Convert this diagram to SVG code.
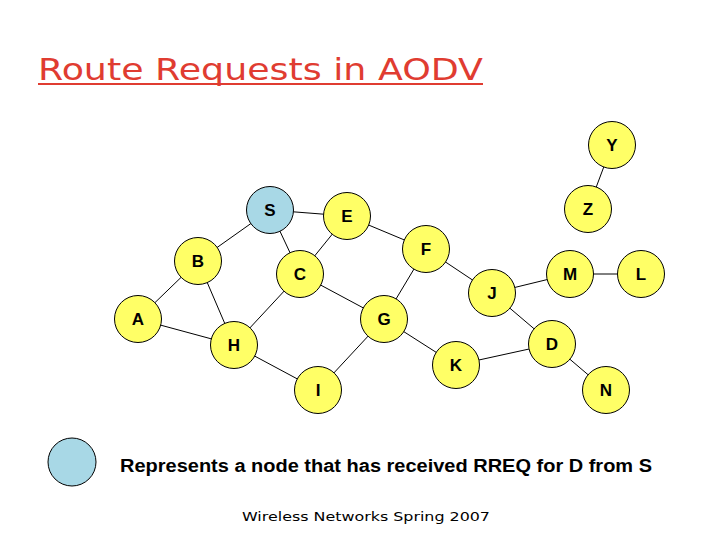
<svg xmlns="http://www.w3.org/2000/svg" width="720" height="540" viewBox="0 0 720 540">
<style>
.n{fill:#ffff66;stroke:#000;stroke-width:1}
.s{fill:#a8d8e6;stroke:#000;stroke-width:1}
.l{font-family:"Liberation Sans",Arial,sans-serif;font-weight:bold;font-size:17px;text-anchor:middle}
#edges line{stroke:#000;stroke-width:1}
</style>
<rect width="720" height="540" fill="#fff"/>
<text x="38" y="80" font-family="DejaVu Sans,sans-serif" font-size="31" fill="#e03c31" textLength="445" lengthAdjust="spacingAndGlyphs">Route Requests in AODV</text>
<line x1="38" y1="84" x2="483" y2="84" stroke="#e03c31" stroke-width="2"/>
<g id="edges">
<line x1="612" y1="145" x2="588" y2="209"/>
<line x1="270" y1="210" x2="347" y2="216"/>
<line x1="270" y1="210" x2="198" y2="261"/>
<line x1="270" y1="210" x2="300" y2="274"/>
<line x1="347" y1="216" x2="300" y2="274"/>
<line x1="347" y1="216" x2="426" y2="249"/>
<line x1="198" y1="261" x2="138" y2="319"/>
<line x1="198" y1="261" x2="234" y2="345"/>
<line x1="138" y1="319" x2="234" y2="345"/>
<line x1="300" y1="274" x2="234" y2="345"/>
<line x1="300" y1="274" x2="384" y2="319"/>
<line x1="426" y1="249" x2="384" y2="319"/>
<line x1="426" y1="249" x2="492" y2="293"/>
<line x1="492" y1="293" x2="570" y2="274"/>
<line x1="570" y1="274" x2="641" y2="274"/>
<line x1="492" y1="293" x2="552" y2="344"/>
<line x1="384" y1="319" x2="456" y2="365"/>
<line x1="384" y1="319" x2="318" y2="390"/>
<line x1="234" y1="345" x2="318" y2="390"/>
<line x1="456" y1="365" x2="552" y2="344"/>
<line x1="552" y1="344" x2="606" y2="390"/>
</g>
<g id="Y"><circle class="n" cx="612" cy="145" r="23.5"/><text class="l" x="612" y="151">Y</text></g>
<g id="Z"><circle class="n" cx="588" cy="209" r="23.5"/><text class="l" x="588" y="215">Z</text></g>
<g id="S"><circle class="s" cx="270" cy="210" r="23.5"/><text class="l" x="270" y="216">S</text></g>
<g id="E"><circle class="n" cx="347" cy="216" r="23.5"/><text class="l" x="347" y="222">E</text></g>
<g id="F"><circle class="n" cx="426" cy="249" r="23.5"/><text class="l" x="426" y="255">F</text></g>
<g id="B"><circle class="n" cx="198" cy="261" r="23.5"/><text class="l" x="198" y="267">B</text></g>
<g id="C"><circle class="n" cx="300" cy="274" r="23.5"/><text class="l" x="300" y="280">C</text></g>
<g id="J"><circle class="n" cx="492" cy="293" r="23.5"/><text class="l" x="492" y="299">J</text></g>
<g id="M"><circle class="n" cx="570" cy="274" r="23.5"/><text class="l" x="570" y="280">M</text></g>
<g id="L"><circle class="n" cx="641" cy="274" r="23.5"/><text class="l" x="641" y="280">L</text></g>
<g id="A"><circle class="n" cx="138" cy="319" r="23.5"/><text class="l" x="138" y="325">A</text></g>
<g id="G"><circle class="n" cx="384" cy="319" r="23.5"/><text class="l" x="384" y="325">G</text></g>
<g id="H"><circle class="n" cx="234" cy="345" r="23.5"/><text class="l" x="234" y="351">H</text></g>
<g id="D"><circle class="n" cx="552" cy="344" r="23.5"/><text class="l" x="552" y="350">D</text></g>
<g id="K"><circle class="n" cx="456" cy="365" r="23.5"/><text class="l" x="456" y="371">K</text></g>
<g id="I"><circle class="n" cx="318" cy="390" r="23.5"/><text class="l" x="318" y="396">I</text></g>
<g id="N"><circle class="n" cx="606" cy="390" r="23.5"/><text class="l" x="606" y="396">N</text></g>
<g id="legend"><circle class="s" cx="72" cy="462" r="24"/>
<text x="120" y="472" font-family="Liberation Sans,Arial,sans-serif" font-size="17.5" font-weight="bold" textLength="532" lengthAdjust="spacingAndGlyphs">Represents a node that has received RREQ for D from S</text></g>
<text x="242" y="521" font-family="DejaVu Sans,sans-serif" font-size="13" textLength="248" lengthAdjust="spacingAndGlyphs">Wireless Networks Spring 2007</text>
</svg>
